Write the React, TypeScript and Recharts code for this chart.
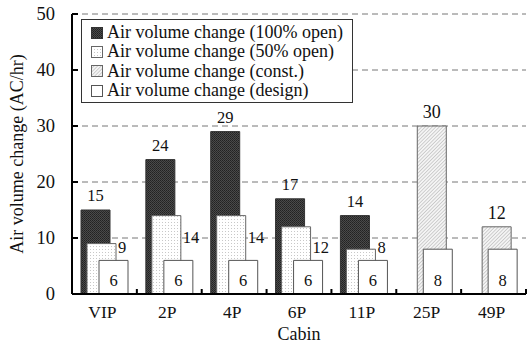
import { BarChart, Bar, XAxis, YAxis, CartesianGrid, Legend, LabelList } from 'recharts';

const categories = ['VIP', '2P', '4P', '6P', '11P', '25P', '49P'];
const open100 = [15, 24, 29, 17, 14, null, null];
const open50 = [9, 14, 14, 12, 8, null, null];
const constVals = [null, null, null, null, null, 30, 12];
const designVals = [6, 6, 6, 6, 6, 8, 8];
const yTicks = [0, 10, 20, 30, 40, 50];

const FONT = '"Liberation Serif", "Times New Roman", serif';

const SERIES = [
  { key: 'open100', name: 'Air volume change (100% open)', fill: 'url(#pat-dark)', stroke: '#333' },
  { key: 'open50', name: 'Air volume change (50% open)', fill: 'url(#pat-dots)', stroke: '#666' },
  { key: 'constant', name: 'Air volume change (const.)', fill: 'url(#pat-hatch)', stroke: '#666' },
  { key: 'design', name: 'Air volume change (design)', fill: '#fff', stroke: '#555' },
];

const data = categories.map((name, i) => ({
  name,
  open100: open100[i],
  open50: open50[i],
  constant: constVals[i],
  design: designVals[i],
}));

function Patterns() {
  return (
    <svg width={0} height={0} style={{ position: 'absolute' }}>
      <defs>
        <pattern id="pat-dark" width={2} height={2} patternUnits="userSpaceOnUse">
          <rect width={2} height={2} fill="#4a4a4a" />
          <rect width={1} height={1} fill="#222" />
          <rect x={1} y={1} width={1} height={1} fill="#2a2a2a" />
        </pattern>
        <pattern id="pat-dots" width={3} height={3} patternUnits="userSpaceOnUse">
          <rect width={3} height={3} fill="#fff" />
          <rect width={1} height={1} fill="#c8c8c8" />
        </pattern>
        <pattern id="pat-hatch" width={2.5} height={2.5} patternUnits="userSpaceOnUse" patternTransform="rotate(45)">
          <rect width={2.5} height={2.5} fill="#f4f4f4" />
          <line x1={0} y1={0} x2={0} y2={2.5} stroke="#aaa" strokeWidth={1} />
        </pattern>
      </defs>
    </svg>
  );
}

function LegendBox() {
  return (
    <div
      style={{
        border: '1px solid #333',
        background: '#fff',
        padding: '3px 9px 2px 9px',
        fontFamily: FONT,
        fontSize: 18,
        color: '#111',
      }}
    >
      {SERIES.map((s) => (
        <div key={s.key} style={{ display: 'flex', alignItems: 'center', height: 19.3, whiteSpace: 'nowrap' }}>
          <svg width={12} height={12} style={{ marginRight: 4 }}>
            <rect x={0.5} y={0.5} width={11} height={11} fill={s.fill} stroke={s.stroke} />
          </svg>
          {s.name}
        </div>
      ))}
    </div>
  );
}

const YTick = (props: any) => {
  const { x, y, payload } = props;
  const axisX = x + 17;
  return (
    <g>
      <line x1={axisX} x2={axisX + 6} y1={y} y2={y} stroke="#000" strokeWidth={2} />
      <text x={x} y={y} textAnchor="end" dominantBaseline="central" fontFamily={FONT} fontSize={18.5} fill="#111">
        {payload.value}
      </text>
    </g>
  );
};

const XTick = (props: any) => {
  const { x, y, payload } = props;
  const axisY = y - 12;
  const edge = x + (payload.offset || 0);
  return (
    <g>
      <line x1={edge} x2={edge} y1={axisY} y2={axisY - 5} stroke="#000" strokeWidth={2} />
      <text x={x - 2} y={y} dy="0.71em" textAnchor="middle" fontFamily={FONT} fontSize={17.5} fill="#111">
        {payload.value}
      </text>
    </g>
  );
};

const topLabel = (size: number, gap: number) => (props: any) => {
  const { x, y, width, value } = props;
  if (value == null) return null;
  return (
    <text x={x + width / 2} y={y - gap} textAnchor="middle" fontFamily={FONT} fontSize={size} fill="#111">
      {value}
    </text>
  );
};

const sideLabel = (props: any) => {
  const { x, y, width, height, value } = props;
  if (value == null) return null;
  return (
    <text
      x={x + width + 2}
      y={Math.min(y + 22, y + height - 47)}
      dominantBaseline="central"
      fontFamily={FONT}
      fontSize={16.5}
      fill="#111"
    >
      {value}
    </text>
  );
};

const bottomLabel = (props: any) => {
  const { x, y, width, height, value } = props;
  if (value == null) return null;
  return (
    <text x={x + width / 2} y={y + height - 8} textAnchor="middle" fontFamily={FONT} fontSize={16.5} fill="#111">
      {value}
    </text>
  );
};

export default function App() {
  return (
    <div style={{ position: 'absolute', left: 0, top: 0, width: 532, height: 350, background: '#fff' }}>
      <Patterns />
      <BarChart
        width={532}
        height={350}
        data={data}
        margin={{ top: 14, right: 6, left: 0, bottom: 0 }}
        barSize={29}
        barGap={-23}
      >
        <CartesianGrid vertical={false} strokeDasharray="6 4" stroke="#777" />
        <XAxis
          dataKey="name"
          height={56}
          axisLine={{ stroke: '#000', strokeWidth: 2 }}
          tickLine={false}
          tickSize={0}
          tickMargin={12}
          tick={<XTick />}
          interval={0}
          label={(props: any) => {
            const vb = props.viewBox;
            return (
              <text x={vb.x + vb.width / 2} y={340} textAnchor="middle" fontFamily={FONT} fontSize={18} fill="#111">
                Cabin
              </text>
            );
          }}
        />
        <YAxis
          width={72}
          domain={[0, 50]}
          ticks={yTicks}
          interval={0}
          axisLine={{ stroke: '#000', strokeWidth: 2 }}
          tickLine={false}
          tickSize={0}
          tickMargin={17}
          tick={<YTick />}
          label={(props: any) => {
            const vb = props.viewBox;
            const cy = vb.y + vb.height / 2;
            return (
              <text
                x={17}
                y={cy}
                transform={`rotate(-90, 17, ${cy})`}
                textAnchor="middle"
                dominantBaseline="central"
                fontFamily={FONT}
                fontSize={18}
                fill="#111"
              >
                Air volume change (AC/hr)
              </text>
            );
          }}
        />
        <Legend
          layout="vertical"
          align="center"
          verticalAlign="middle"
          content={() => <LegendBox />}
          wrapperStyle={{ left: 81, top: 19, width: 'auto', height: 'auto' }}
        />
        <Bar dataKey="open100" name={SERIES[0].name} fill={SERIES[0].fill} stroke={SERIES[0].stroke} isAnimationActive={false}>
          <LabelList dataKey="open100" content={topLabel(16.5, 9)} />
        </Bar>
        <Bar dataKey="open50" name={SERIES[1].name} fill={SERIES[1].fill} stroke={SERIES[1].stroke} isAnimationActive={false}>
          <LabelList dataKey="open50" content={sideLabel} />
        </Bar>
        <Bar dataKey="constant" name={SERIES[2].name} fill={SERIES[2].fill} stroke={SERIES[2].stroke} isAnimationActive={false}>
          <LabelList dataKey="constant" content={topLabel(18, 8)} />
        </Bar>
        <Bar dataKey="design" name={SERIES[3].name} fill={SERIES[3].fill} stroke={SERIES[3].stroke} isAnimationActive={false}>
          <LabelList dataKey="design" content={bottomLabel} />
        </Bar>
      </BarChart>
    </div>
  );
}
